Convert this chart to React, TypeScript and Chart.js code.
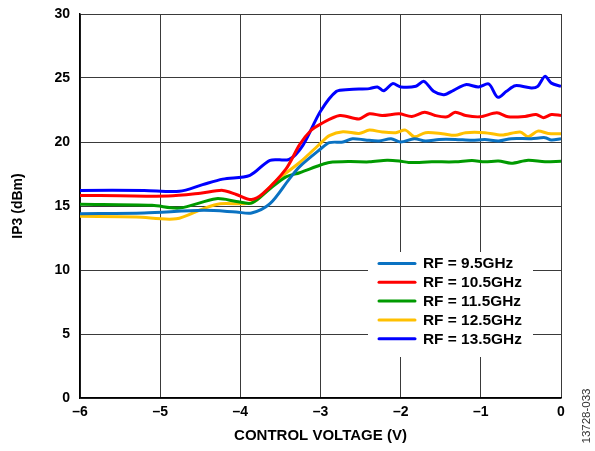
import React, { useEffect, useRef } from "react";
import { Chart, registerables } from "chart.js";

Chart.register(...registerables);

// ---- data ----
const seriesLabels = ["RF = 9.5GHz", "RF = 10.5GHz", "RF = 11.5GHz", "RF = 12.5GHz", "RF = 13.5GHz"];
const seriesColors = ["#0a72c2", "#ff0000", "#009a00", "#ffc000", "#0000ff"];

const rf95V = [-6, -5.2, -4.46, -4.05, -3.86, -3.63, -3.39, -3.26, -3.0, -2.89, -2.72, -2.6, -2.44, -2.27, -2.12, -2.0, -1.83, -1.69, -1.52, -1.32, -1.11, -0.95, -0.78, -0.62, -0.37, -0.2, -0.12, 0];
const rf95IP3 = [14.4, 14.45, 14.66, 14.53, 14.45, 15.18, 17.1, 18.08, 19.45, 19.95, 20.0, 20.26, 20.16, 20.08, 20.26, 20.0, 20.26, 20.08, 20.2, 20.2, 20.13, 20.2, 20.08, 20.26, 20.26, 20.34, 20.16, 20.26];

const rf105V = [-6, -5.5, -4.9, -4.5, -4.22, -4.05, -3.86, -3.72, -3.43, -3.26, -3.12, -3.0, -2.76, -2.52, -2.39, -2.23, -2.02, -1.86, -1.7, -1.57, -1.42, -1.32, -1.19, -1.01, -0.8, -0.66, -0.45, -0.31, -0.22, -0.12, 0];
const rf105IP3 = [15.83, 15.8, 15.78, 16.0, 16.22, 15.9, 15.5, 15.96, 17.9, 19.8, 20.9, 21.4, 22.07, 21.8, 22.2, 22.07, 22.2, 22.0, 22.33, 22.07, 21.97, 22.33, 22.07, 21.97, 22.28, 21.97, 22.0, 22.15, 21.9, 22.15, 22.07];

const rf115V = [-6, -5.1, -4.76, -4.3, -4.05, -3.86, -3.63, -3.43, -3.26, -3.0, -2.89, -2.64, -2.39, -2.17, -2.02, -1.9, -1.61, -1.32, -1.11, -0.95, -0.78, -0.62, -0.41, -0.2, 0];
const rf115IP3 = [15.13, 15.05, 14.84, 15.57, 15.36, 15.23, 16.35, 17.27, 17.6, 18.2, 18.4, 18.47, 18.45, 18.58, 18.52, 18.4, 18.45, 18.45, 18.55, 18.45, 18.52, 18.34, 18.58, 18.45, 18.5];

const rf125V = [-6, -5.3, -4.8, -4.46, -4.25, -3.84, -3.55, -3.26, -3.0, -2.89, -2.72, -2.52, -2.39, -2.23, -2.06, -1.94, -1.83, -1.69, -1.48, -1.32, -1.19, -0.95, -0.74, -0.51, -0.41, -0.29, -0.16, 0];
const rf125IP3 = [14.19, 14.14, 14.0, 14.8, 15.18, 15.3, 17.0, 18.4, 19.9, 20.5, 20.8, 20.67, 20.93, 20.78, 20.73, 20.93, 20.41, 20.73, 20.65, 20.52, 20.73, 20.73, 20.54, 20.78, 20.41, 20.85, 20.67, 20.65];

const rf135V = [-6, -5.2, -4.76, -4.47, -4.22, -3.88, -3.63, -3.39, -3.22, -3.0, -2.8, -2.64, -2.39, -2.29, -2.21, -2.1, -2.0, -1.81, -1.71, -1.59, -1.46, -1.34, -1.19, -1.03, -0.9, -0.79, -0.68, -0.57, -0.37, -0.29, -0.2, -0.12, 0];
const rf135IP3 = [16.22, 16.22, 16.15, 16.67, 17.1, 17.4, 18.57, 18.65, 19.74, 22.4, 23.96, 24.1, 24.17, 24.3, 24.0, 24.56, 24.3, 24.35, 24.74, 23.96, 23.7, 24.04, 24.48, 24.3, 24.53, 23.5, 23.96, 24.4, 24.22, 24.35, 25.13, 24.6, 24.35];

const xTickValues = [-6, -5, -4, -3, -2, -1, 0];
const yTickValues = [0, 5, 10, 15, 20, 25, 30];
const xTitle = "CONTROL VOLTAGE (V)";
const yTitle = "IP3 (dBm)";
const figureId = "13728-033";

const seriesV = [rf95V, rf105V, rf115V, rf125V, rf135V];
const seriesIP3 = [rf95IP3, rf105IP3, rf115IP3, rf125IP3, rf135IP3];

const FONT = "'Liberation Sans', Arial, Helvetica, sans-serif";

const legendPlugin = {
  id: "boxLegend",
  afterDatasetsDraw(chart: any) {
    const { ctx, chartArea } = chart;
    const bx = chartArea.left + 288;
    const by = chartArea.top + 238;
    const bw = 165;
    const bh = 105;
    ctx.save();
    ctx.fillStyle = "#ffffff";
    ctx.fillRect(bx, by, bw, bh);
    chart.data.datasets.forEach((ds: any, i: number) => {
      const y = by + 11.5 + i * 18.8;
      ctx.strokeStyle = ds.borderColor;
      ctx.lineWidth = 3;
      ctx.lineCap = "round";
      ctx.beginPath();
      ctx.moveTo(bx + 11, y);
      ctx.lineTo(bx + 47, y);
      ctx.stroke();
      ctx.save();
      ctx.translate(bx + 55, y);
      ctx.scale(1.1, 1);
      ctx.fillStyle = "#000";
      ctx.font = `bold 14px ${FONT}`;
      ctx.textBaseline = "middle";
      ctx.textAlign = "left";
      ctx.fillText(ds.label, 0, 1);
      ctx.restore();
    });
    ctx.restore();
  },
  afterDraw(chart: any) {
    const { ctx } = chart;
    ctx.save();
    ctx.translate(587, 416);
    ctx.rotate(-Math.PI / 2);
    ctx.fillStyle = "#333";
    ctx.font = `10px ${FONT}`;
    ctx.textAlign = "center";
    ctx.textBaseline = "middle";
    ctx.scale(1.15, 1);
    ctx.fillText(figureId, 0, 0);
    ctx.restore();
  },
};

export default function App() {
  const canvasRef = useRef<HTMLCanvasElement | null>(null);

  useEffect(() => {
    document.body.style.margin = "0";
    const canvas = canvasRef.current;
    if (!canvas) return;
    const chart = new Chart(canvas, {
      type: "line",
      data: {
        datasets: seriesLabels.map((label, i) => ({
          label,
          data: seriesV[i].map((v, j) => ({ x: v, y: seriesIP3[i][j] })),
          borderColor: seriesColors[i],
          backgroundColor: seriesColors[i],
          borderWidth: 3,
          pointRadius: 0,
          tension: 0.3,
          fill: false,
        })),
      },
      options: {
        responsive: false,
        animation: false,
        devicePixelRatio: 1,
        layout: { padding: { top: 14, right: 34, left: 0, bottom: 0 } },
        plugins: {
          legend: { display: false },
          tooltip: { enabled: false },
        },
        scales: {
          x: {
            type: "linear",
            min: -6,
            max: 0,
            afterFit: (scale: any) => {
              scale.height = 53;
            },
            afterBuildTicks: (scale: any) => {
              scale.ticks = xTickValues.map((v) => ({ value: v }));
            },
            ticks: {
              color: "#000",
              padding: 6,
              maxRotation: 0,
              font: { family: FONT, size: 14, weight: "bold" },
              callback: (v: any) => (Number(v) < 0 ? "\u2013" + Math.abs(Number(v)) : String(v)),
            },
            grid: { color: "#3a3a3a", lineWidth: 1, drawTicks: false },
            border: { display: true, color: "#000", width: 1.5 },
            title: {
              display: true,
              text: xTitle,
              color: "#000",
              font: { family: FONT, size: 15, weight: "bold" },
              padding: { top: 0, bottom: 6 },
            },
          },
          y: {
            type: "linear",
            min: 0,
            max: 30,
            afterFit: (scale: any) => {
              scale.width = 80;
              scale.paddingTop = 0;
              scale.paddingBottom = 0;
            },
            afterBuildTicks: (scale: any) => {
              scale.ticks = yTickValues.map((v) => ({ value: v }));
            },
            ticks: {
              color: "#000",
              padding: 10,
              font: { family: FONT, size: 14, weight: "bold" },
            },
            grid: { color: "#3a3a3a", lineWidth: 1, drawTicks: false },
            border: { display: true, color: "#000", width: 1.5 },
            title: {
              display: true,
              text: yTitle,
              color: "#000",
              font: { family: FONT, size: 14, weight: "bold" },
              padding: { top: 10, bottom: 0 },
            },
          },
        },
      },
      plugins: [legendPlugin],
    });
    return () => chart.destroy();
  }, []);

  return (
    <div style={{ width: 595, height: 451 }}>
      <canvas ref={canvasRef} width={595} height={451} style={{ display: "block" }} />
    </div>
  );
}
